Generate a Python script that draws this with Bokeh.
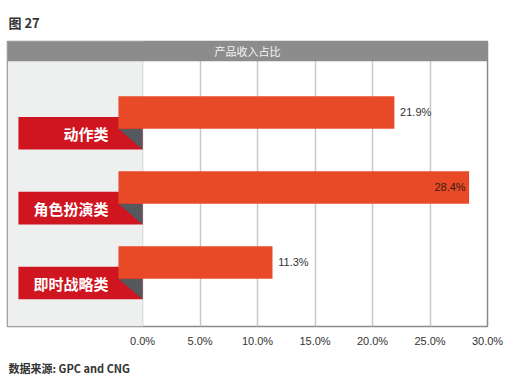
from bokeh.plotting import figure
from bokeh.models import Range1d, FixedTicker, PrintfTickFormatter, ColumnDataSource, Title
from bokeh.core.properties import value
from bokeh.embed import file_html
from bokeh.resources import INLINE

# ---- data ----
categories = ["动作类", "角色扮演类", "即时战略类"]
shares = [21.9, 28.4, 11.3]
tick_values = [0, 5, 10, 15, 20, 25, 30]
chart_title = "产品收入占比"
figure_label = "图 27"
source_note = "数据来源: GPC and CNG"

# ---- style / layout constants ----
X_START, X_END = -11.75, 30.0
Y_TOP, Y_BOTTOM = -0.947, 2.855
BAR_H = 0.434
RIBBON_DY = 0.276
HEADER_H = 0.263
BAR_START = -2.1
RIBBON_LEFT = -10.8
LABEL_RIGHT = -2.96

ORANGE = "#e84a28"
RED = "#cf1520"
DARK = "#55585c"
HEADER = "#8c8c8c"
PANEL = "#eef0f0"
CJK = "Noto Sans CJK SC"
LATIN = "Liberation Sans"

p = figure(width=522, height=384, output_backend="svg", toolbar_location=None,
           x_range=Range1d(X_START, X_END), y_range=Range1d(Y_BOTTOM, Y_TOP),
           y_axis_location=None, min_border_left=7, min_border_right=35,
           min_border_top=0, min_border_bottom=54)
p.background_fill_color = "white"
p.border_fill_color = "white"
p.outline_line_color = "#8a8a8a"
p.outline_line_width = 1.5

# title "图 27"
p.title.text = figure_label
p.title.align = "left"
p.title.text_font = CJK
p.title.text_font_size = "13px"
p.title.text_font_style = "bold"
p.title.text_color = "#333333"
p.title.standoff = 20
p.title.offset = 1

# x axis
p.xaxis.ticker = FixedTicker(ticks=tick_values)
p.xaxis.formatter = PrintfTickFormatter(format="%.1f%%")
p.xaxis.axis_line_color = None
p.xaxis.major_tick_line_color = None
p.xaxis.minor_tick_line_color = None
p.xaxis.major_tick_out = 0
p.xaxis.major_tick_in = 0
p.xaxis.major_label_standoff = 8
p.xaxis.major_label_text_font = LATIN
p.xaxis.major_label_text_font_size = "11px"
p.xaxis.major_label_text_color = "#333333"
p.xgrid.ticker = FixedTicker(ticks=tick_values)
p.xgrid.grid_line_color = "#c8c8c8"
p.xgrid.grid_line_width = 1.5
p.ygrid.visible = False

# left panel + header
p.quad(left=X_START, right=0, top=Y_TOP, bottom=Y_BOTTOM, fill_color=PANEL, line_color=None)
p.quad(left=X_START, right=X_END, top=Y_TOP, bottom=Y_TOP + HEADER_H, fill_color=HEADER, line_color=None)
p.text(x=[(X_START + X_END) / 2], y=[Y_TOP + HEADER_H / 2], text=[chart_title],
       text_align="center", text_baseline="middle", text_color="#f4f4f4",
       text_font=value(CJK), text_font_size="11px")

idx = list(range(len(categories)))
src = ColumnDataSource(dict(
    y=idx,
    ry=[i + RIBBON_DY for i in idx],
    cat=categories,
    share=shares,
    tri_x=[[BAR_START, 0, 0] for _ in idx],
    tri_y=[[i + BAR_H / 2, i + BAR_H / 2, i + RIBBON_DY + BAR_H / 2] for i in idx],
))

# ribbons
p.hbar(y="ry", left=RIBBON_LEFT, right=0, height=BAR_H, source=src, fill_color=RED, line_color=None)
p.patches(xs="tri_x", ys="tri_y", source=src, fill_color=DARK, line_color=None)
p.hbar(y="y", left=BAR_START, right="share", height=BAR_H, source=src, fill_color=ORANGE, line_color=None)
p.text(x=LABEL_RIGHT, y="ry", text="cat", source=src, text_align="right", text_baseline="middle",
       text_color="white", text_font=value(CJK), text_font_size="15px", text_font_style="bold")

# value labels
out_i = [i for i in idx if shares[i] + 4 <= X_END]
in_i = [i for i in idx if shares[i] + 4 > X_END]
p.text(x=[shares[i] + 0.5 for i in out_i], y=[i for i in out_i],
       text=[f"{shares[i]:.1f}%" for i in out_i], text_align="left", text_baseline="middle",
       text_color="#333333", text_font=value(LATIN), text_font_size="11px")
p.text(x=[shares[i] - 0.3 for i in in_i], y=[i for i in in_i],
       text=[f"{shares[i]:.1f}%" for i in in_i], text_align="right", text_baseline="middle",
       text_color="#3a1a10", text_font=value(LATIN), text_font_size="11px")

# source note
note = Title(text=source_note, align="left", text_font=CJK, text_font_size="11px",
             text_font_style="bold", text_color="#333333", offset=1, standoff=17)
p.add_layout(note, "below")

open("out.html", "w").write(file_html(p, INLINE))
